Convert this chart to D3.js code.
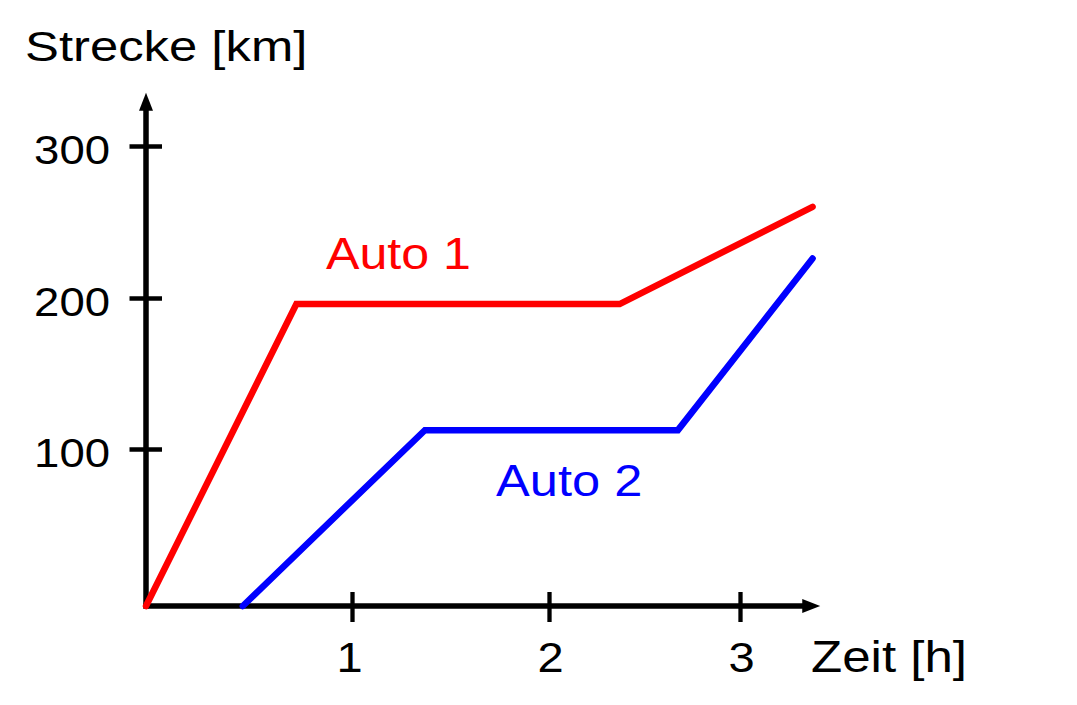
<!DOCTYPE html>
<html>
<head>
<meta charset="utf-8">
<script src="https://cdn.jsdelivr.net/npm/d3@7"></script>
<style>
  html, body { margin: 0; padding: 0; background: #fff; }
  svg { display: block; }
  text { font-family: "Liberation Sans", Arial, Helvetica, sans-serif; }
</style>
</head>
<body>
<svg id="chart" width="1077" height="705"></svg>
<script>
// ---- data ----
const xTickValues = [1, 2, 3];
const yTickValues = [100, 200, 300];
const xAxisLabel = "Zeit [h]";
const yAxisLabel = "Strecke [km]";
const seriesNames = ["Auto 1", "Auto 2"];
const auto1Time = [0, 0.73, 2.37, 3.38];
const auto1Dist = [0, 196, 196, 260];
const auto2Time = [0.47, 1.37, 2.675, 3.38];
const auto2Dist = [0, 112.5, 112.5, 226];
const xAxisEnd = 3.42;   // axis arrow tip (hours)
const yAxisEnd = 335;    // axis arrow tip (km)

// ---- scales (hand-drawn original: piecewise linear) ----
const x = d3.scaleLinear().domain([0, 1, 2, 3]).range([146, 352, 549, 740]);
const y = d3.scaleLinear().domain([0, 100, 200, 300]).range([606, 449, 298, 146]);

const svg = d3.select("#chart");
const arrowLen = 18, arrowHalf = 7;

// ---- series lines ----
const line = d3.line().x(d => x(d[0])).y(d => y(d[1]));
const series = [
  { name: seriesNames[0], color: "#ff0000", pts: auto1Time.map((t, i) => [t, auto1Dist[i]]) },
  { name: seriesNames[1], color: "#0000ff", pts: auto2Time.map((t, i) => [t, auto2Dist[i]]) }
];

// ---- axes ----
const axisG = svg.append("g");
axisG.append("line")
  .attr("x1", x(0) - 2.5).attr("y1", y(0))
  .attr("x2", x(xAxisEnd) - arrowLen + 1).attr("y2", y(0))
  .attr("stroke", "#000").attr("stroke-width", 5.5);
axisG.append("path")
  .attr("d", `M${x(xAxisEnd)},${y(0)} L${x(xAxisEnd) - arrowLen},${y(0) - arrowHalf} L${x(xAxisEnd) - arrowLen},${y(0) + arrowHalf} Z`)
  .attr("fill", "#000");
axisG.append("line")
  .attr("x1", x(0)).attr("y1", y(0) + 2.5)
  .attr("x2", x(0)).attr("y2", y(yAxisEnd) + arrowLen - 1)
  .attr("stroke", "#000").attr("stroke-width", 5.5);
axisG.append("path")
  .attr("d", `M${x(0)},${y(yAxisEnd)} L${x(0) - arrowHalf},${y(yAxisEnd) + arrowLen} L${x(0) + arrowHalf},${y(yAxisEnd) + arrowLen} Z`)
  .attr("fill", "#000");

const xAxis = d3.axisBottom(x).tickValues(xTickValues).tickSizeOuter(0).tickFormat(d3.format("d"));
const gx = svg.append("g").attr("transform", `translate(0,${y(0)})`).call(xAxis);
gx.select(".domain").remove();
gx.selectAll(".tick line")
  .attr("y1", -14).attr("y2", 16)
  .attr("stroke", "#000").attr("stroke-width", 4.3);
gx.selectAll(".tick text")
  .attr("y", null).attr("dy", null)
  .attr("fill", "#000")
  .attr("font-size", 42)
  .attr("text-anchor", "middle")
  .attr("transform", d => `translate(${d === 1 ? -3 : 1},66) scale(1.12,1)`);

const yAxis = d3.axisLeft(y).tickValues(yTickValues).tickSizeOuter(0).tickFormat(d3.format("d"));
const gy = svg.append("g").attr("transform", `translate(${x(0)},0)`).call(yAxis);
gy.select(".domain").remove();
gy.selectAll(".tick line")
  .attr("x1", -16.5).attr("x2", 16)
  .attr("stroke", "#000").attr("stroke-width", 4.3);
gy.selectAll(".tick text")
  .attr("x", null).attr("dy", null)
  .attr("fill", "#000")
  .attr("font-size", 41)
  .attr("text-anchor", "end")
  .attr("transform", "translate(-36,17) scale(1.11,1)");

svg.append("g").selectAll("path")
  .data(series).join("path")
  .attr("d", d => line(d.pts))
  .attr("fill", "none")
  .attr("stroke", d => d.color)
  .attr("stroke-width", 6.5)
  .attr("stroke-linecap", "round")
  .attr("stroke-linejoin", "miter");

function label(txt, px, py, size, sx, color) {
  svg.append("text")
    .attr("transform", `translate(${px},${py}) scale(${sx},1)`)
    .attr("font-size", size)
    .attr("fill", color)
    .text(txt);
}
label(yAxisLabel, 25, 61, 42, 1.21, "#000");
label(xAxisLabel, 811, 672, 44, 1.16, "#000");
label(seriesNames[0], 326, 269, 44, 1.14, "#ff0000");
label(seriesNames[1], 496, 496, 44, 1.15, "#0000ff");
</script>
</body>
</html>
